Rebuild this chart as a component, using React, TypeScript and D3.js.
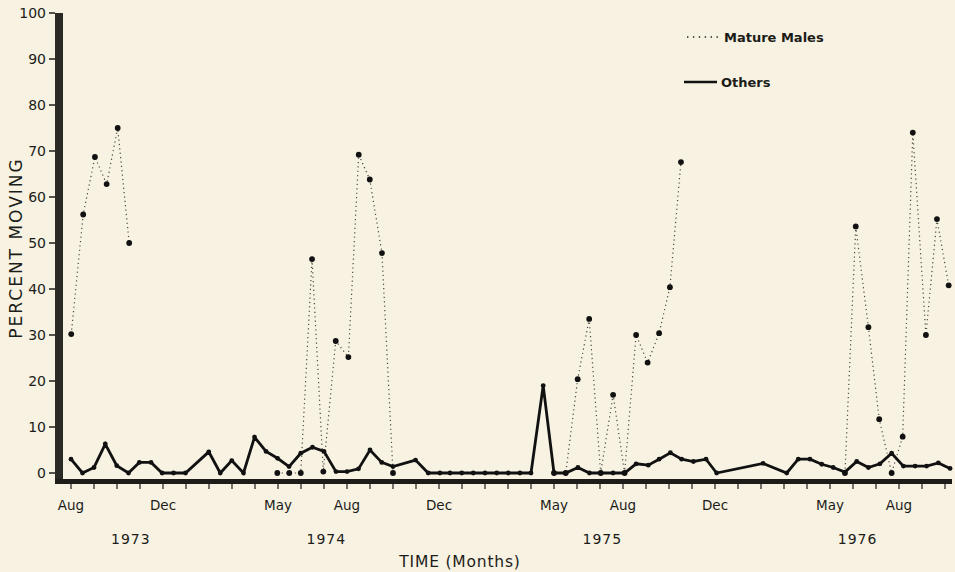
import React from 'react';
import { scaleLinear, line } from 'd3';

// months counted from Aug 1973 (0 = Aug 1973)
const othersT = [0, 0.5, 1, 1.49, 1.99, 2.5, 2.97, 3.48, 3.96, 4.46, 4.98, 5.99, 6.49, 6.99, 7.5, 7.98, 8.48, 8.98, 9.48, 9.99, 10.5, 11, 11.52, 12, 12.5, 13, 13.51, 14, 14.98, 15.53, 16.04, 16.48, 16.99, 17.49, 18, 18.51, 19.01, 19.52, 20, 20.53, 21, 21.51, 22.04, 22.54, 23.04, 23.57, 24.07, 24.57, 25.1, 25.57, 26.06, 26.55, 27.06, 27.61, 28.07, 30.09, 31.12, 31.62, 32.13, 32.64, 33.14, 33.65, 34.16, 34.67, 35.17, 35.68, 36.19, 36.7, 37.2, 37.71, 38.22];
const othersV = [3, 0, 1.2, 6.3, 1.6, 0, 2.3, 2.3, 0, 0, 0, 4.6, 0, 2.7, 0, 7.8, 4.7, 3.2, 1.4, 4.3, 5.6, 4.7, 0.3, 0.3, 0.9, 5, 2.3, 1.4, 2.8, 0, 0, 0, 0, 0, 0, 0, 0, 0, 0, 19, 0, 0, 1.2, 0, 0, 0, 0, 2, 1.7, 3, 4.4, 3, 2.5, 3, 0, 2.1, 0, 3, 3, 1.9, 1.2, 0.2, 2.5, 1.2, 2, 4.3, 1.5, 1.5, 1.5, 2.2, 1];

// null breaks the dotted line between seasons
const maleT = [0.01, 0.53, 1.04, 1.55, 2.03, 2.53, 5, 8.97, 9.49, 9.99, 10.48, 10.97, 11.51, 12.06, 12.51, 12.99, 13.52, 14, 18, 21, 21.51, 22.03, 22.53, 23.03, 23.57, 24.07, 24.57, 25.07, 25.57, 26.04, 26.52, 30, 33.65, 34.12, 34.67, 35.14, 35.68, 36.16, 36.6, 37.17, 37.65, 38.16];
const maleV = [30.2, 56.2, 68.7, 62.8, 75, 50, null, 0, 0, 0, 46.5, 0.3, 28.7, 25.2, 69.2, 63.8, 47.8, 0, null, 0, 0, 20.4, 33.5, 0, 17, 0, 30, 24, 30.4, 40.4, 67.6, null, 0, 53.6, 31.7, 11.7, 0, 7.9, 74, 30, 55.2, 40.8];

const yTicks = [0, 10, 20, 30, 40, 50, 60, 70, 80, 90, 100];
const monthLabels: [number, string][] = [[0, 'Aug'], [4, 'Dec'], [9, 'May'], [12, 'Aug'], [16, 'Dec'], [21, 'May'], [24, 'Aug'], [28, 'Dec'], [33, 'May'], [36, 'Aug']];
const yearLabels: [number, string][] = [[2.6, '1973'], [11.1, '1974'], [23.1, '1975'], [34.2, '1976']];

const W = 955, H = 572;
const font = '"DejaVu Sans", "Liberation Sans", sans-serif';
const ink = '#1c1c18';

export default function App() {
  const x = scaleLinear().domain([0, 38]).range([71, 945]);
  const y = scaleLinear().domain([0, 100]).range([473, 13]);

  const others = othersT.map((t, i) => ({ t, v: othersV[i] }));
  const males = maleT.map((t, i) => ({ t, v: maleV[i] }));

  const path = line<{ t: number; v: number | null }>()
    .defined(d => d.v !== null)
    .x(d => x(d.t))
    .y(d => y(d.v as number));

  const months = Array.from({ length: 39 }, (_, i) => i);

  return (
    <svg width={W} height={H} style={{ position: 'absolute', left: 0, top: 0, background: '#f7f2e2' }}>
      <rect width={W} height={H} fill="#f7f2e2" />

      {/* y axis */}
      <rect x={55} y={13} width={8} height={471} fill="#2b2a24" />
      {yTicks.map(t => (
        <g key={t}>
          <line x1={49} x2={55} y1={y(t)} y2={y(t)} stroke={ink} strokeWidth={1.5} />
          <text x={46} y={y(t)} dy="0.35em" textAnchor="end" fontFamily={font} fontSize={14} fill={ink}>{t}</text>
        </g>
      ))}
      <text transform={`translate(22,${248}) rotate(-90)`} textAnchor="middle" fontFamily={font} fontSize={17} letterSpacing={2} fill={ink}>PERCENT MOVING</text>

      {/* x axis */}
      <rect x={55} y={479} width={897} height={5} fill="#1e1d19" />
      {months.map(m => (
        <line key={m} x1={x(m)} x2={x(m)} y1={484} y2={489} stroke={ink} strokeWidth={1.2} />
      ))}
      {monthLabels.map(([m, s], i) => (
        <text key={i} x={x(m)} y={510} textAnchor="middle" fontFamily={font} fontSize={13.5} fill={ink}>{s}</text>
      ))}
      {yearLabels.map(([m, s], i) => (
        <text key={i} x={x(m)} y={544} textAnchor="middle" fontFamily={font} fontSize={14} letterSpacing={1} fill={ink}>{s}</text>
      ))}
      <text x={460} y={567} textAnchor="middle" fontFamily={font} fontSize={15.5} letterSpacing={0.8} fill={ink}>TIME (Months)</text>

      {/* mature males */}
      <path d={path(males) || ''} fill="none" stroke="#4a4a42" strokeWidth={1.2} strokeDasharray="1.2 3.2" />
      {males.filter(d => d.v !== null).map((d, i) => (
        <circle key={i} cx={x(d.t)} cy={y(d.v as number)} r={2.9} fill="#111" />
      ))}

      {/* others */}
      <path d={path(others) || ''} fill="none" stroke="#111" strokeWidth={2.8} />
      {others.map((d, i) => (
        <circle key={i} cx={x(d.t)} cy={y(d.v)} r={2.4} fill="#111" />
      ))}

      {/* legend */}
      <line x1={687} x2={719} y1={37} y2={37} stroke="#222" strokeWidth={1.6} strokeDasharray="1.4 4.5" />
      <text x={724} y={37} dy="0.35em" fontFamily={font} fontWeight="bold" fontSize={13} fill={ink}>Mature Males</text>
      <line x1={684} x2={717} y1={82} y2={82} stroke="#111" strokeWidth={2.6} />
      <text x={721} y={82} dy="0.35em" fontFamily={font} fontWeight="bold" fontSize={13} fill={ink}>Others</text>
    </svg>
  );
}
